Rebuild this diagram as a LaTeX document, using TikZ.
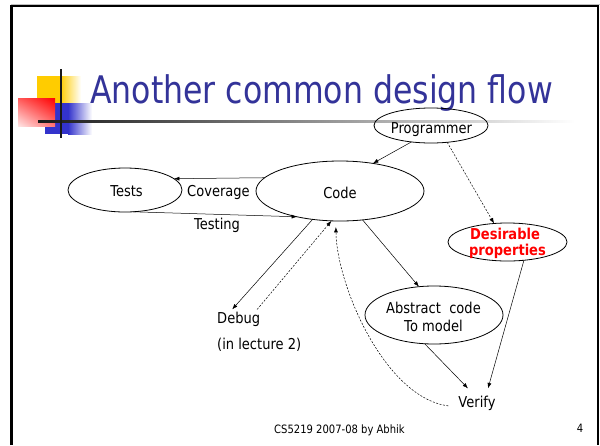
\documentclass[tikz,border=0pt]{standalone}
\usepackage{fontspec}
\setmainfont{DejaVu Sans}[FakeStretch=0.87]
\newfontfamily\titlefont{DejaVu Sans}[FakeStretch=0.83]
\usetikzlibrary{arrows.meta,shapes.geometric,shadings}
\definecolor{titleblue}{RGB}{51,51,153}
\definecolor{logoyellow}{RGB}{255,204,0}
\definecolor{logoblue}{RGB}{51,51,204}

\begin{document}
\begin{tikzpicture}[x=1pt,y=-1pt,
  bubble/.style={ellipse,draw,line width=0.8pt,inner sep=0pt,outer sep=0pt},
  lbl/.style={inner sep=0pt,anchor=base,font=\fontsize{15}{18}\selectfont},
  redlbl/.style={lbl,text=red,font=\bfseries\fontsize{15}{18}\selectfont},
  smalllbl/.style={lbl,font=\fontsize{11.5}{13}\selectfont},
  arr/.style={-{Latex[length=5.5pt,width=4pt]},line width=0.5pt},
  dsh/.style={arr,dash pattern=on 2pt off 1.5pt}]

\useasboundingbox (0,0) rectangle (600,445);
\fill[white] (0,0) rectangle (600,445);

% slide frame
\draw[black!25,line width=1pt] (11,4.3) -- (600,4.3);
\draw[line width=2.5pt,line join=miter] (11.3,445) -- (11.3,6) -- (598,6) -- (598,445);

% logo squares and rule
\fill[logoyellow] (37,76) rectangle (60,103);
\shade[left color=logoyellow,right color=white] (60,76) rectangle (81,103);
\fill[logoblue] (45,103) rectangle (68,134);
\shade[left color=logoblue,right color=white] (68,103) rectangle (92,134);
\shade[upper left=red!65!white,upper right=red,lower left=red!10!white,lower right=red!55!white] (18,98) rectangle (55,126);
\shade[left color=black!90,middle color=black!32,right color=white] (38,120) rectangle (575,122.5);
\fill[black!90] (59.5,69) rectangle (62,138);

% title
\node[anchor=base west,inner sep=0pt,text=titleblue,font=\titlefont\fontsize{38}{40}\selectfont] (title) at (90,103) {Another common design flow};

% ellipses
\node[bubble,minimum width=114,minimum height=35] (prog) at (431,125.5) {};
\node[bubble,minimum width=168,minimum height=60] (code) at (340,191) {};
\node[bubble,minimum width=114,minimum height=44] (tests) at (125,190) {};
\node[bubble,minimum width=119,minimum height=38] (des) at (507.5,242) {};
\node[bubble,minimum width=138,minimum height=58] (abs) at (434,315) {};

% texts
\node[lbl] (progtxt) at (431.5,133) {Programmer};
\node[lbl] (codetxt) at (340,198) {Code};
\node[lbl] (teststxt) at (126.5,196) {Tests};
\node[redlbl] (des1) at (505,239) {Desirable};
\node[redlbl] (des2) at (507.5,255) {properties};
\node[lbl] (abs1) at (433.5,313) {Abstract\ \ code};
\node[lbl] (abs2) at (433.5,331) {To model};
\node[lbl] (coverage) at (218.5,196) {Coverage};
\node[lbl] (testing) at (217,229) {Testing};
\node[lbl,anchor=base west] (debug) at (217,323) {Debug};
\node[lbl,anchor=base west] (lecture) at (217,349) {(in lecture 2)};
\node[lbl] (verify) at (477,407) {Verify};
\node[smalllbl] (footer) at (339.5,433) {CS5219 2007-08 by Abhik};
\node[smalllbl] (pagenum) at (580,432) {4};

% connectors
\draw[arr] (prog.220) -- (code.40);
\draw[dsh] (prog.314) -- (des.126);
\draw[arr] (code.170) -- (tests.13);
\draw[arr] (tests.290) -- (code.211);
\draw[arr] (code.308) -- (abs.118);
\draw[arr] (des.312) -- ([xshift=11pt,yshift=7pt]verify.north);
\draw[arr] (abs.252) -- ([xshift=-9pt,yshift=7pt]verify.north);
\draw[arr] (code.226) -- ([xshift=-6.5pt,yshift=2pt]debug.north);
\draw[dsh] ([xshift=18.5pt,yshift=2pt]debug.north) -- (code.254);
\draw[dsh,shorten >=6pt] ([xshift=-10pt,yshift=-3pt]verify.west) .. controls +(-63,-8) and +(1,65) .. (code.262);
\end{tikzpicture}
\end{document}
